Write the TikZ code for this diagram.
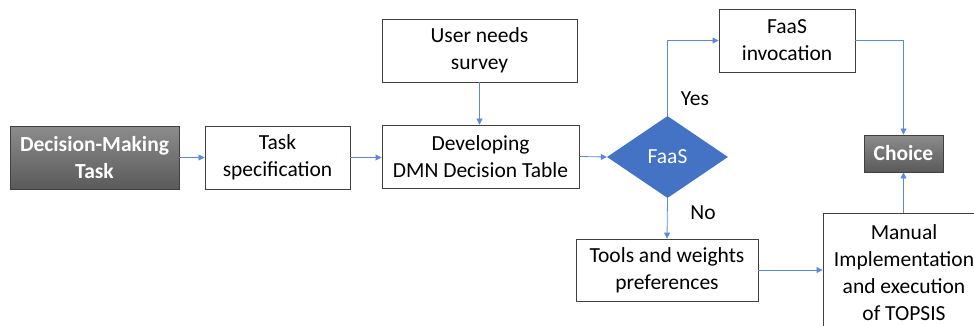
\documentclass[tikz,border=0pt]{standalone}
\usepackage{fontspec}
\setmainfont{Carlito}
\usetikzlibrary{arrows.meta,shapes.geometric,calc}
\definecolor{lineblue}{RGB}{91,139,214}
\definecolor{diablue}{RGB}{68,114,196}
\definecolor{boxedge}{RGB}{64,64,64}
\definecolor{graytop}{RGB}{140,140,140}
\definecolor{graybot}{RGB}{90,90,90}
\tikzset{
  box/.style={draw=boxedge, line width=0.9pt, fill=white, inner sep=0pt, align=center, font=\fontsize{21.5}{27}\selectfont},
  graybox/.style={draw=boxedge, line width=0.9pt, inner sep=0pt, align=center, top color=graytop, bottom color=graybot, text=white, font=\fontsize{21.5}{27}\selectfont\bfseries},
  dia/.style={diamond, fill=diablue, draw=none, inner sep=0pt, text=white, font=\fontsize{21.5}{27}\selectfont},
  conn/.style={draw=lineblue, line width=0.8pt, -{Triangle[width=6pt,length=6pt]}},
  lbl/.style={inner sep=0pt, font=\fontsize{21.5}{27}\selectfont}
}
\begin{document}
\begin{tikzpicture}[x=1pt,y=1pt]
\useasboundingbox (0,0) rectangle (974,325);
\clip (0,0) rectangle (974,325);
\node[graybox, minimum width=169pt, minimum height=63pt] (dm) at (94.5,167.5) {Decision-Making\\Task};
\node[box, minimum width=145pt, minimum height=63pt] (ts) at (277.5,167.5) {Task\\specification};
\node[box, minimum width=197pt, minimum height=63pt] (dmn) at (480.5,168.5) {Developing\\DMN Decision Table};
\node[box, minimum width=195pt, minimum height=63pt] (uns) at (479.5,274.5) {User needs\\survey};
\node[dia, minimum width=121pt, minimum height=82pt] (fd) at (667.5,168) {FaaS};
\node[box, minimum width=136pt, minimum height=63pt] (fi) at (787,284.5) {FaaS\\invocation};
\node[graybox, minimum width=79pt, minimum height=37pt] (ch) at (903.5,171.5) {Choice};
\node[box, minimum width=182pt, minimum height=62pt] (tp) at (667,55) {Tools and weights\\preferences};
\node[box, minimum width=162pt, minimum height=119pt] (mi) at (904,52.5) {Manual\\Implementation\\and execution\\of TOPSIS};
\node[lbl] (yes) at (695,226) {Yes};
\node[lbl] (no) at (703,112) {No};
\draw[conn] (dm.east) -- (ts.west);
\draw[conn] (ts.east) -- (ts.east -| dmn.west);
\draw[conn] (uns.south) -- (uns.south |- dmn.north);
\draw[conn] (dmn.east) -- (fd.west);
\draw[conn] (fd.north) |- (fi.west);
\draw[conn] (fi.east) -| (ch.north);
\draw[conn] (fd.south) -- (tp.north);
\draw[conn] (tp.east) -- (tp.east -| mi.west);
\draw[conn] (mi.north -| ch.south) -- (ch.south);
\end{tikzpicture}
\end{document}
